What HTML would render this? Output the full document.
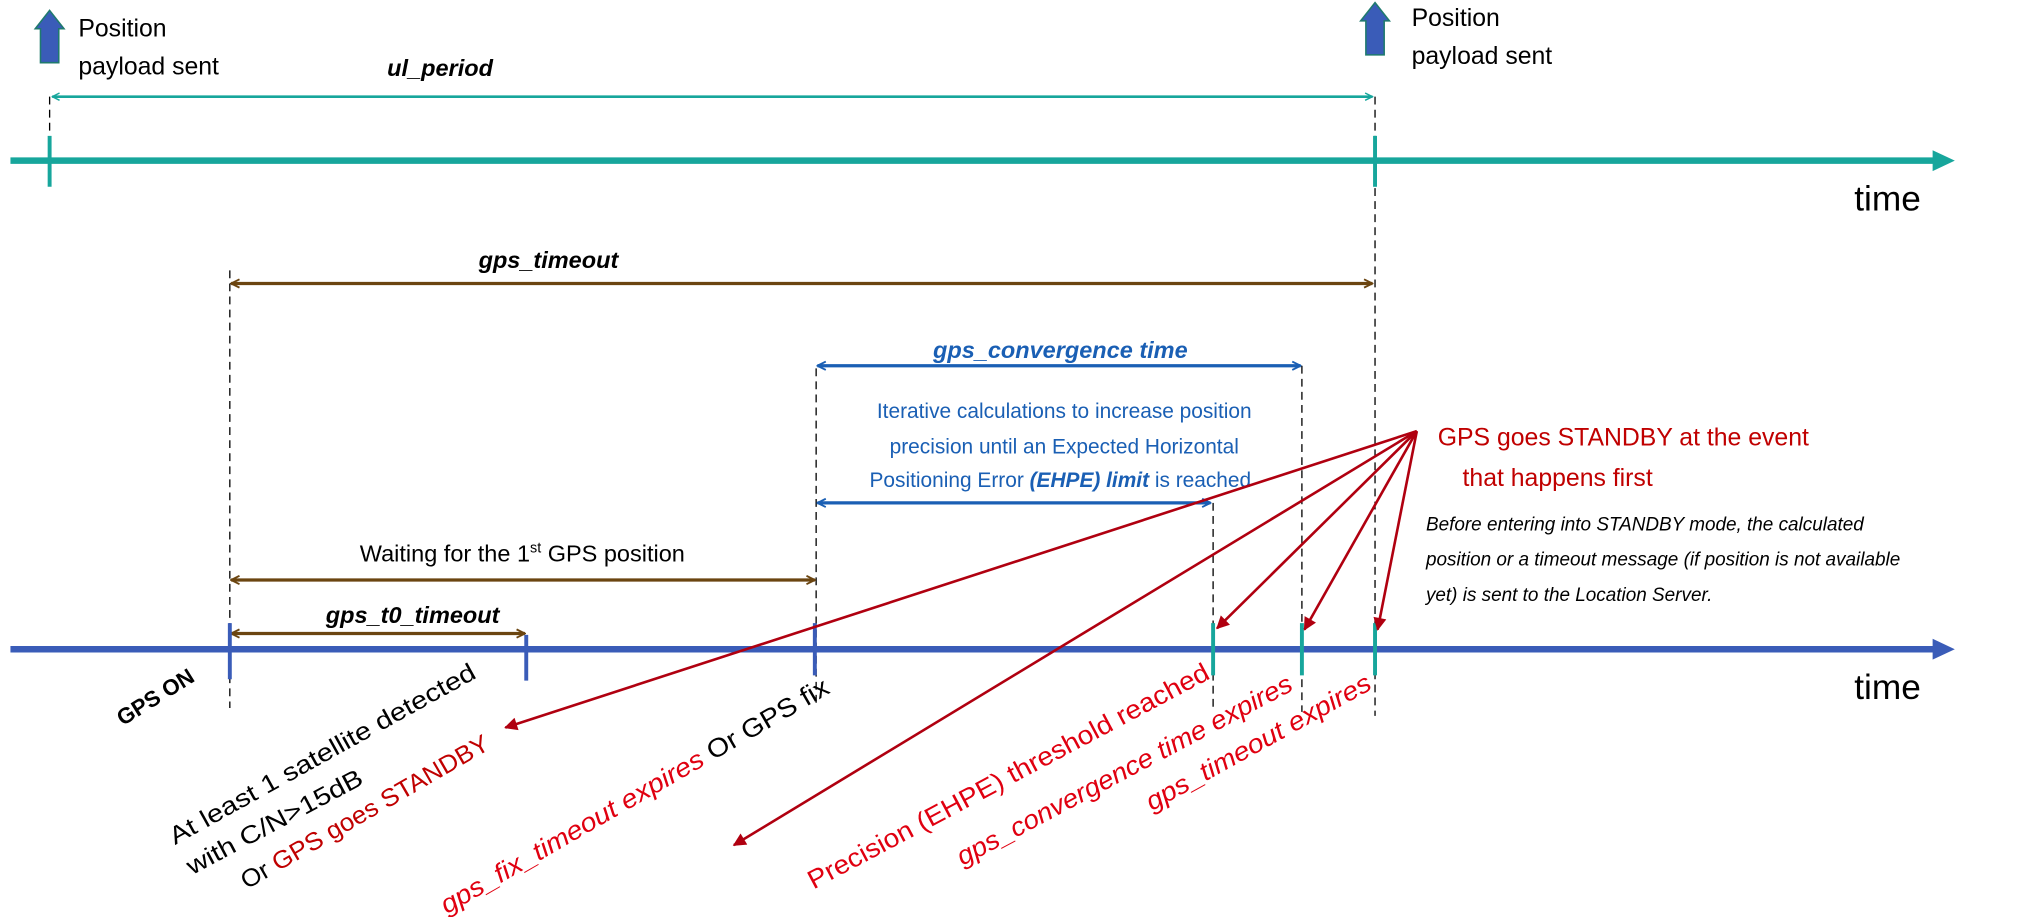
<!DOCTYPE html>
<html><head><meta charset="utf-8"><style>
html,body{margin:0;padding:0;background:#fff;overflow:hidden;}
svg{display:block;}
text{font-family:"Liberation Sans",sans-serif;}
</style></head><body>
<svg width="2041" height="917" viewBox="0 0 1563 702" preserveAspectRatio="none" xmlns="http://www.w3.org/2000/svg">
<defs>
<marker id="mt" viewBox="0 0 10 10" refX="9" refY="5" markerWidth="7" markerHeight="7" orient="auto-start-reverse" markerUnits="userSpaceOnUse"><path d="M1,1 L9,5 L1,9" fill="none" stroke="#17a69c" stroke-width="1.6"/></marker>
<marker id="mb" viewBox="0 0 10 10" refX="9" refY="5" markerWidth="8" markerHeight="8" orient="auto-start-reverse" markerUnits="userSpaceOnUse"><path d="M1,1 L9,5 L1,9" fill="none" stroke="#6b4510" stroke-width="1.8"/></marker>
<marker id="mu" viewBox="0 0 10 10" refX="9" refY="5" markerWidth="8" markerHeight="8" orient="auto-start-reverse" markerUnits="userSpaceOnUse"><path d="M1,1 L9,5 L1,9" fill="none" stroke="#1a5fb4" stroke-width="1.8"/></marker>
<marker id="mr" viewBox="0 0 10 10" refX="9" refY="5" markerWidth="12" markerHeight="10" orient="auto" markerUnits="userSpaceOnUse"><path d="M0,0 L10,5 L0,10 Z" fill="#b00010"/></marker>
</defs>

<path d="M38,8 L49,22 L45,22 L45,48 L31,48 L31,22 L27,22 Z" fill="#3a5cb8" stroke="#1f7a6e" stroke-width="1.2"/>
<path d="M1053,2 L1064,16 L1060,16 L1060,42 L1046,42 L1046,16 L1042,16 Z" fill="#3a5cb8" stroke="#1f7a6e" stroke-width="1.2"/>
<text x="60" y="28" font-size="19">Position</text>
<text x="60" y="57" font-size="19">payload sent</text>
<text x="1081" y="20" font-size="19">Position</text>
<text x="1081" y="49" font-size="19">payload sent</text>

<text x="337" y="58" font-size="18" font-weight="bold" font-style="italic" text-anchor="middle">ul_period</text>
<line x1="40" y1="74" x2="1051" y2="74" stroke="#17a69c" stroke-width="2" marker-start="url(#mt)" marker-end="url(#mt)"/>
<line x1="38" y1="74" x2="38" y2="102" stroke="#000" stroke-width="1" stroke-dasharray="6,4"/>
<line x1="1053" y1="74" x2="1053" y2="548" stroke="#000" stroke-width="1" stroke-dasharray="6,4"/>

<line x1="8" y1="123" x2="1482" y2="123" stroke="#17a69c" stroke-width="5"/>
<path d="M1480,115 L1497,123 L1480,131 Z" fill="#17a69c"/>
<line x1="38" y1="104" x2="38" y2="143" stroke="#17a69c" stroke-width="3"/>
<line x1="1053" y1="104" x2="1053" y2="143" stroke="#17a69c" stroke-width="3"/>
<text x="1420" y="161" font-size="27">time</text>

<text x="420" y="205" font-size="18" font-weight="bold" font-style="italic" text-anchor="middle">gps_timeout</text>
<line x1="177" y1="217" x2="1051" y2="217" stroke="#6b4510" stroke-width="2.5" marker-start="url(#mb)" marker-end="url(#mb)"/>
<line x1="176" y1="207" x2="176" y2="542" stroke="#000" stroke-width="1" stroke-dasharray="6,4"/>

<text x="812" y="274" font-size="18" font-weight="bold" font-style="italic" text-anchor="middle" fill="#1a5fb4">gps_convergence time</text>
<line x1="626" y1="280" x2="996" y2="280" stroke="#1a5fb4" stroke-width="2.5" marker-start="url(#mu)" marker-end="url(#mu)"/>
<line x1="625" y1="282" x2="625" y2="540" stroke="#000" stroke-width="1" stroke-dasharray="6,4"/>
<line x1="997" y1="280" x2="997" y2="545" stroke="#000" stroke-width="1" stroke-dasharray="6,4"/>
<text x="815" y="320" font-size="16" text-anchor="middle" fill="#1a5fb4">Iterative calculations to increase position</text>
<text x="815" y="347" font-size="16" text-anchor="middle" fill="#1a5fb4">precision until an Expected Horizontal</text>
<text x="812" y="373" font-size="16" text-anchor="middle" fill="#1a5fb4">Positioning Error <tspan font-weight="bold" font-style="italic">(EHPE) limit</tspan> is reached</text>
<line x1="626" y1="385" x2="927" y2="385" stroke="#1a5fb4" stroke-width="2.5" marker-start="url(#mu)" marker-end="url(#mu)"/>
<line x1="929" y1="385" x2="929" y2="545" stroke="#000" stroke-width="1" stroke-dasharray="6,4"/>

<text x="400" y="430" font-size="18" text-anchor="middle">Waiting for the 1<tspan font-size="11" dy="-7">st</tspan><tspan dy="7"> GPS position</tspan></text>
<line x1="177" y1="444" x2="624" y2="444" stroke="#6b4510" stroke-width="2.5" marker-start="url(#mb)" marker-end="url(#mb)"/>
<text x="316" y="477" font-size="18" font-weight="bold" font-style="italic" text-anchor="middle">gps_t0_timeout</text>
<line x1="177" y1="485" x2="402" y2="485" stroke="#6b4510" stroke-width="2.5" marker-start="url(#mb)" marker-end="url(#mb)"/>

<line x1="8" y1="497" x2="1482" y2="497" stroke="#3a5cb8" stroke-width="5"/>
<path d="M1480,489 L1497,497 L1480,505 Z" fill="#3a5cb8"/>
<line x1="176" y1="477" x2="176" y2="520" stroke="#3a5cb8" stroke-width="3"/>
<line x1="403" y1="486" x2="403" y2="521" stroke="#3a5cb8" stroke-width="3"/>
<line x1="624" y1="477" x2="624" y2="517" stroke="#3a5cb8" stroke-width="3"/>
<line x1="929" y1="477" x2="929" y2="517" stroke="#17a69c" stroke-width="3"/>
<line x1="997" y1="477" x2="997" y2="517" stroke="#17a69c" stroke-width="3"/>
<line x1="1053" y1="477" x2="1053" y2="517" stroke="#17a69c" stroke-width="3"/>
<text x="1420" y="535" font-size="27">time</text>

<g stroke="#b00010" stroke-width="2" fill="none">
<line x1="1085" y1="330" x2="387" y2="557" marker-end="url(#mr)"/>
<line x1="1085" y1="330" x2="562" y2="647" marker-end="url(#mr)"/>
<line x1="1085" y1="330" x2="932" y2="481" marker-end="url(#mr)"/>
<line x1="1085" y1="330" x2="999" y2="482" marker-end="url(#mr)"/>
<line x1="1085" y1="330" x2="1055" y2="482" marker-end="url(#mr)"/>
</g>
<text x="1101" y="341" font-size="19" fill="#c00000">GPS goes STANDBY at the event</text>
<text x="1120" y="372" font-size="19" fill="#c00000">that happens first</text>
<text x="1092" y="406" font-size="14.5" font-style="italic">Before entering into STANDBY mode, the calculated</text>
<text x="1092" y="433" font-size="14.5" font-style="italic">position or a timeout message (if position is not available</text>
<text x="1092" y="460" font-size="14.5" font-style="italic">yet) is sent to the Location Server.</text>

<text transform="translate(94,556) rotate(-32)" font-size="17" font-weight="bold">GPS ON</text>
<text transform="translate(134,647) rotate(-29)" font-size="19" textLength="265" lengthAdjust="spacingAndGlyphs">At least 1 satellite detected</text>
<text transform="translate(147,670) rotate(-28)" font-size="19" textLength="150" lengthAdjust="spacingAndGlyphs">with C/N&gt;15dB</text>
<text transform="translate(189,681) rotate(-30)" font-size="19" textLength="216" lengthAdjust="spacingAndGlyphs">Or <tspan fill="#c00000">GPS goes STANDBY</tspan></text>
<text transform="translate(342,700) rotate(-30)" font-size="20" textLength="340" lengthAdjust="spacingAndGlyphs"><tspan fill="#e00010" font-style="italic">gps_fix_timeout expires</tspan> Or GPS fix</text>
<text transform="translate(623,681) rotate(-28)" font-size="20" fill="#e00010" textLength="345" lengthAdjust="spacingAndGlyphs">Precision (EHPE) threshold reached</text>
<text transform="translate(737,663) rotate(-28)" font-size="20" fill="#e00010" font-style="italic" textLength="288" lengthAdjust="spacingAndGlyphs">gps_convergence time expires</text>
<text transform="translate(882,621) rotate(-29)" font-size="20" fill="#e00010" font-style="italic" textLength="194" lengthAdjust="spacingAndGlyphs">gps_timeout expires</text>
</svg>
</body></html>
